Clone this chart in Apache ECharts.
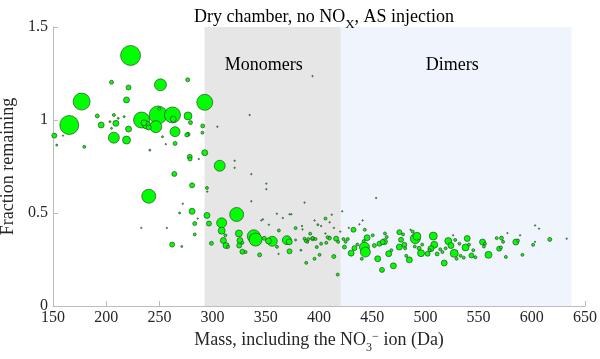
<!DOCTYPE html>
<html>
<head>
<meta charset="utf-8">
<script src="https://cdn.jsdelivr.net/npm/echarts@6/dist/echarts.min.js"></script>
<style>html,body{margin:0;padding:0;background:#fff}#c{width:600px;height:359px}</style>
</head>
<body>
<div id="c"></div>
<script>
// Mass including NO3- ion (Da)
const mass = [
222.9,176.9,165.3,151.2,153.5,179.4,159.4,205,221,219.1,251,276.6,191.6,195.3,207.2,209.1,203.5,205,211.3,216.9,
221,207.2,219.1,233.2,237.9,235.5,240,246.6,248.8,250,262.3,263,264.7,276.9,279.2,276.9,264.7,278.5,292.6,290.7,
290.4,292.6,241,252.9,256,287,240,264,262,257,272,286,233,269,271,275.7,278.8,
306.7,320.7,320.7,336.4,280.7,294.7,295,350.5,350.5,336.4,386.4,280.7,294.7,322.6,283.2,296.6,308.5,308.5,283.2,312,
324.7,338.7,340.4,348.5,356.1,352.5,369.8,372,298.9,310.1,312.6,314.5,325.7,325,328,328,331,344.2,372.3,388,395.8,
378,378,383,360.5,362,347.3,352.9,360.4,372.3,374,362.3,366,384,384.5,395.8,406.1,402,406,391.7,394,396.7,389,397.9,
402,406.8,408,393.9,334.8,304.5,400.5,398.9,386.4,387.5,390,394,345.8,
453.7,421.8,412,409.8,416.1,418,413.9,417.6,410,414,420,423,425,428,432.4,438,441,443,445.2,442.7,443.6,430.2,423.9,
433.3,427,440.2,436,442,450.5,452,455.2,456.8,459.9,461.5,463.6,462,465.5,468,459.2,469.9,475.5,477.1,475.5,480.2,481,
479,484.9,482,486,488,490.5,492,495.9,494,490,497,502.1,504,507.4,508.3,505.2,511,514,517.7,521.5,524,527.1,516,519,
526,528,532,529.3,533,536,539.3,537.7,541,545,543.3,547,553.7,556,555,559.3,567,571.5,573,577.1,569.3,571,575.6,585,
587,589,591.2,601.2,603,603.1,606.8,616.9,632.8
];
// Fraction remaining
const fraction = [
1.347,1.099,0.973,0.916,0.865,0.856,0.916,1.203,1.175,1.108,1.189,1.216,1.022,0.973,1.027,0.982,0.991,0.955,1.009,1.018,
0.951,0.905,0.892,1.0,0.973,0.985,0.96,0.964,1.027,1.06,1.027,1.005,0.937,1.022,0.986,0.923,0.874,0.802,1.095,0.968,
0.932,0.824,0.838,0.91,0.87,0.79,0.59,0.71,0.33,0.42,0.55,0.47,0.42,0.5,0.32,0.92,0.79,
0.754,0.781,0.743,0.709,0.649,0.635,0.615,0.658,0.628,0.563,0.556,0.509,0.487,0.492,0.443,0.443,0.447,0.405,0.385,0.38,
0.39,0.375,0.357,0.364,0.348,0.35,0.354,0.345,0.337,0.352,0.325,0.318,0.352,0.325,0.34,0.292,0.29,0.275,0.294,0.232,0.254,
0.419,0.355,0.3,0.318,0.28,0.466,0.437,0.496,0.493,0.493,0.406,0.473,0.43,0.412,0.46,0.47,0.43,0.39,0.389,0.362,0.36,0.345,0.317,
0.335,0.34,0.37,1.236,1.027,0.964,0.275,0.437,0.362,0.35,0.36,0.365,0.46,
0.581,0.509,0.491,0.365,0.362,0.345,0.266,0.169,0.45,0.42,0.4,0.36,0.345,0.42,0.41,0.439,0.46,0.41,0.367,0.317,0.29,0.284,0.317,
0.311,0.36,0.254,0.33,0.349,0.38,0.325,0.254,0.335,0.344,0.346,0.371,0.39,0.281,0.3,0.194,0.216,0.397,0.356,0.317,0.329,0.31,
0.385,0.248,0.27,0.41,0.4,0.362,0.375,0.284,0.31,0.32,0.33,0.281,0.3,0.376,0.329,0.308,0.28,0.305,0.231,0.349,0.325,0.283,0.29,0.31,
0.38,0.355,0.335,0.254,0.27,0.26,0.363,0.315,0.33,0.3,0.272,0.262,0.344,0.335,0.32,0.275,0.365,0.365,0.345,0.392,0.308,0.315,0.264,0.344,
0.352,0.38,0.275,0.329,0.345,0.433,0.416,0.358,0.362
];
// Relative signal (bubble area)
const signal = [
400,289,361,25,4,9,2,16,25,36,144,16,16,36,9,36,4,4,4,4,
36,121,64,256,64,36,25,144,324,9,256,36,100,64,16,16,16,25,256,16,
9,36,4,4,2,2,196,25,25,2,2,2,2,4,4,16,16,
121,2,2,2,25,9,2,2,2,2,2,36,36,196,16,25,100,49,9,9,
49,169,169,16,100,36,81,36,16,36,36,9,36,25,9,25,9,16,25,9,9,
9,4,4,9,2,2,2,2,2,2,9,2,2,2,2,9,2,2,9,16,9,9,9,
9,9,9,2,2,2,9,4,9,9,9,9,2,
2,2,2,16,25,9,16,9,2,2,2,9,9,2,25,2,2,9,36,100,100,36,16,
25,9,9,9,9,9,16,36,25,25,36,9,9,36,9,25,36,25,25,36,25,9,
9,36,9,2,9,100,64,49,16,9,9,25,9,64,49,36,16,9,36,49,36,64,9,9,
2,9,9,9,9,9,36,49,9,9,25,9,36,9,9,49,9,16,9,2,25,9,9,36,
9,2,9,9,2,2,2,16,2
];
const xTicks = [150,200,250,300,350,400,450,500,550,600,650];
const yTicks = [0,0.5,1,1.5];
const monomerRange = [292.5, 420.5];
const dimerRange = [420.5, 637.5];

const pts = mass.map((m, i) => [m, fraction[i], signal[i]]);
pts.sort((a, b) => b[2] - a[2]);

const FONT = 'Liberation Serif';
const TS = 18;
const chart = echarts.init(document.getElementById('c'), null, {renderer: 'canvas'});
chart.setOption({
  animation: false,
  backgroundColor: '#fff',
  title: {
    text: '{a|Dry chamber, no NO}{s|X}{a|, AS injection}',
    left: 319, top: 3, textAlign: 'center',
    textStyle: {
      fontWeight: 'normal',
      rich: {
        a: {fontFamily: FONT, fontSize: TS, fontWeight: 'normal', color: '#000', lineHeight: 23, verticalAlign: 'top'},
        s: {fontFamily: FONT, fontSize: 13, fontWeight: 'normal', color: '#000', lineHeight: 13, verticalAlign: 'bottom'}
      }
    }
  },
  grid: {left: 53, right: 15, top: 27, bottom: 53, containLabel: false, outerBoundsMode: 'none'},
  xAxis: {
    type: 'value', min: 150, max: 650, interval: 50,
    name: '{a|Mass, including the NO}{s|3}{p|−}{a| ion (Da)}',
    nameLocation: 'middle', nameGap: 25,
    nameTextStyle: {
      rich: {
        a: {fontFamily: FONT, fontSize: TS, color: '#262626', lineHeight: 23, verticalAlign: 'top'},
        s: {fontFamily: FONT, fontSize: 12, color: '#262626', lineHeight: 12, verticalAlign: 'bottom'},
        p: {fontFamily: FONT, fontSize: 12, color: '#262626', lineHeight: 12, verticalAlign: 'top'}
      }
    },
    axisLine: {show: true, lineStyle: {color: '#bcbcbc', width: 1}},
    axisTick: {show: true, inside: true, length: 5, lineStyle: {color: '#bcbcbc'}},
    axisLabel: {fontFamily: FONT, fontSize: 16, color: '#262626', margin: 4,
      formatter: v => xTicks.includes(v) ? String(v) : ''},
    splitLine: {show: false}
  },
  yAxis: {
    type: 'value', min: 0, max: 1.5, interval: 0.5,
    name: 'Fraction remaining', nameLocation: 'middle', nameGap: 28,
    nameTextStyle: {fontFamily: FONT, fontSize: TS, color: '#262626'},
    axisLine: {show: true, lineStyle: {color: '#bcbcbc', width: 1}},
    axisTick: {show: true, inside: true, length: 5, lineStyle: {color: '#bcbcbc'}},
    axisLabel: {fontFamily: FONT, fontSize: 16, color: '#262626', margin: 5,
      formatter: v => yTicks.includes(v) ? String(v) : ''},
    splitLine: {show: false}
  },
  series: [{
    type: 'scatter',
    data: pts,
    symbol: 'circle',
    symbolSize: d => Math.sqrt(d[2]),
    itemStyle: {color: '#00ff00', borderColor: '#2a2a2a', borderWidth: 0.6, opacity: 1},
    markArea: {
      silent: true,
      data: [
        [{xAxis: monomerRange[0], yAxis: 0, itemStyle: {color: '#e6e6e6'},
          label: {show: true, position: 'insideTop', offset: [-9, 24], formatter: 'Monomers',
                  fontFamily: FONT, fontSize: TS, color: '#000'}},
         {xAxis: monomerRange[1], yAxis: 1.5}],
        [{xAxis: dimerRange[0], yAxis: 0, itemStyle: {color: '#f0f5fd'},
          label: {show: true, position: 'insideTop', offset: [-4, 24], formatter: 'Dimers',
                  fontFamily: FONT, fontSize: TS, color: '#000'}},
         {xAxis: dimerRange[1], yAxis: 1.5}]
      ]
    }
  }]
});
</script>
</body>
</html>
